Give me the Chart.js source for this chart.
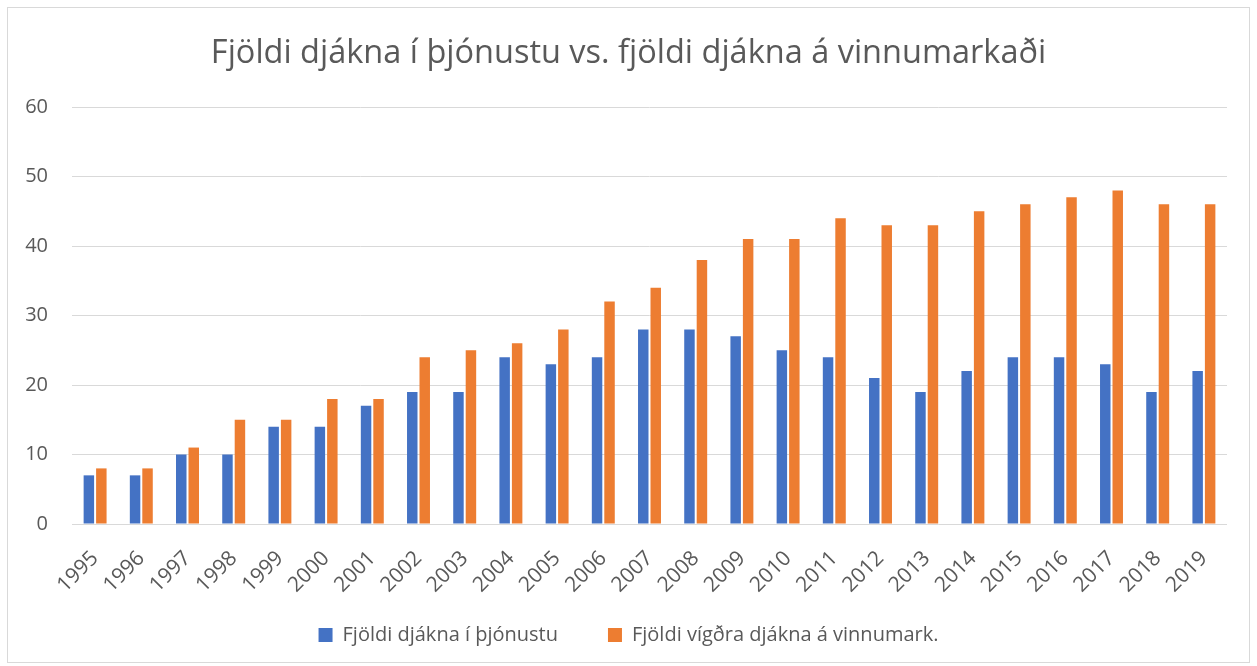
<!DOCTYPE html>
<html>
<head>
<meta charset="utf-8">
<script src="https://cdn.jsdelivr.net/npm/chart.js@4.4.0/dist/chart.umd.min.js"></script>
<style>
html,body{margin:0;padding:0;background:#fff;}
#wrap{position:absolute;left:0;top:0;width:1257px;height:666px;}
#frame{position:absolute;left:7px;top:7px;width:1243px;height:656px;border:1px solid #d9d9d9;box-sizing:border-box;pointer-events:none;}
</style>
</head>
<body>
<div id="wrap"><canvas id="c" width="1257" height="666"></canvas></div>
<div id="frame"></div>
<script>
const categories = ["1995","1996","1997","1998","1999","2000","2001","2002","2003","2004","2005","2006","2007","2008","2009","2010","2011","2012","2013","2014","2015","2016","2017","2018","2019"];
const serviceDeacons = [7,7,10,10,14,14,17,19,19,24,23,24,28,28,27,25,24,21,19,22,24,24,23,19,22];
const ordainedDeacons = [8,8,11,15,15,18,18,24,25,26,28,32,34,38,41,41,44,43,43,45,46,47,48,46,46];
const yTicks = [0,10,20,30,40,50,60];
const seriesNames = ["Fjöldi djákna í þjónustu","Fjöldi vígðra djákna á vinnumark."];
const titleText = "Fjöldi djákna í þjónustu vs. fjöldi djákna á vinnumarkaði";

const FONT = "'Open Sans', 'Noto Sans', sans-serif";
const GREY = "#595959";

// move the legend row up so that its wide item spacing doesn't push it down
const legendShift = {
  id: 'legendShift',
  afterLayout(chart) {
    const lg = chart.legend;
    if (lg) {
      lg.top -= 19;
      lg.height = 100;
      lg.bottom = lg.top + lg.height;
    }
  }
};

new Chart(document.getElementById('c'), {
  type: 'bar',
  data: {
    labels: categories,
    datasets: [
      {label: seriesNames[0], data: serviceDeacons, backgroundColor: '#4472c4', categoryPercentage: 0.54, barPercentage: 0.84},
      {label: seriesNames[1], data: ordainedDeacons, backgroundColor: '#ed7d31', categoryPercentage: 0.54, barPercentage: 0.84}
    ]
  },
  plugins: [legendShift],
  options: {
    responsive: false,
    animation: false,
    layout: {padding: {left: 0, right: 0, top: 0, bottom: 11}},
    plugins: {
      title: {display: true, text: titleText, color: GREY, font: {family: FONT, size: 32.5, weight: 'normal'}, padding: {top: 34, bottom: 34}},
      legend: {position: 'bottom', maxHeight: 61, labels: {color: GREY, font: {family: FONT, size: 20}, boxWidth: 14, boxHeight: 14, padding: 50}},
      tooltip: {enabled: false}
    },
    scales: {
      x: {
        afterFit: (s) => { s.height = 70; },
        grid: {display: false},
        border: {display: false},
        ticks: {color: GREY, font: {family: FONT, size: 21}, minRotation: 45, maxRotation: 45, autoSkip: false, padding: 14}
      },
      y: {
        min: 0, max: 60,
        afterFit: (s) => { s.width = 72; },
        afterBuildTicks: (s) => { s.ticks = yTicks.map(v => ({value: v})); },
        grid: {color: '#d9d9d9', lineWidth: 1, drawTicks: false},
        border: {display: false},
        ticks: {color: GREY, font: {family: FONT, size: 20}, padding: 24}
      },
      yRight: {
        type: 'linear',
        position: 'right',
        min: 0, max: 60,
        afterFit: (s) => { s.width = 30; },
        grid: {display: false, drawTicks: false},
        border: {display: false},
        ticks: {display: false}
      }
    }
  }
});
</script>
</body>
</html>
